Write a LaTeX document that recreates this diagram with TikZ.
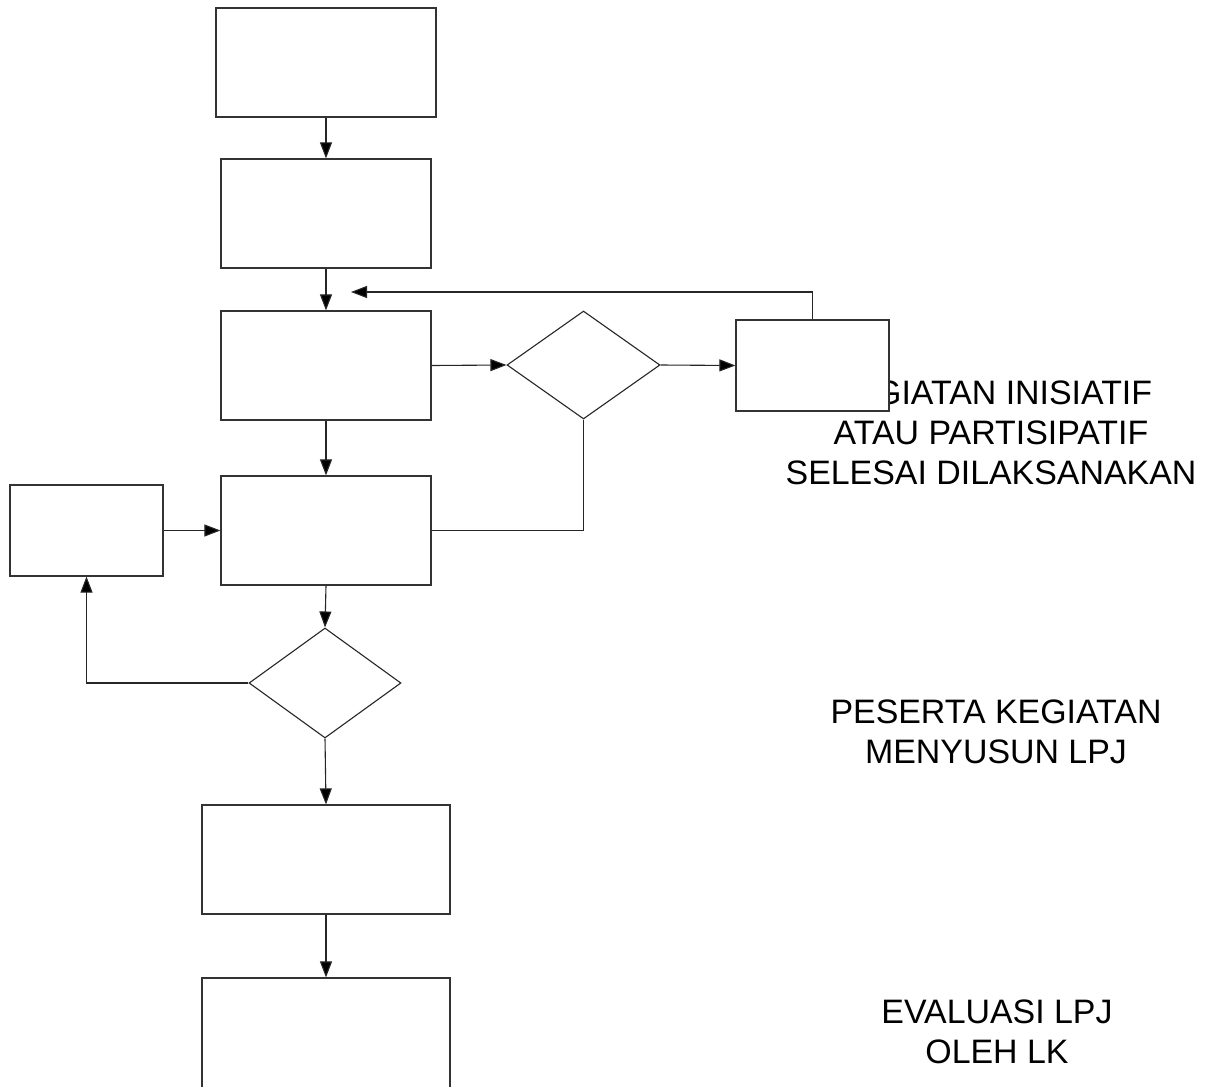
\documentclass[tikz,border=0pt]{standalone}
\usepackage{fontspec}
\setmainfont{Liberation Sans}
\usetikzlibrary{shapes.geometric,arrows.meta}
\begin{document}
\begin{tikzpicture}[x=1pt,y=-1pt,
  boxst/.style={draw=black!80,line width=1.2pt,fill=white,inner sep=0pt},
  decst/.style={draw=black!85,line width=1.1pt,fill=white,diamond,inner sep=0pt},
  conn/.style={draw=black!85,line width=1.1pt},
  arr/.style={conn,-{Triangle[length=16pt,width=12pt,fill=black]}},
  lbl/.style={font=\fontsize{33.9}{40}\selectfont,align=center,inner sep=0pt}]
\useasboundingbox (0,0) rectangle (1222,1086);
\clip (0,0) rectangle (1222,1086);
\fill[white] (0,0) rectangle (1222,1086);
% labels (drawn first so that the boxes cover them)
\node[lbl] (t1) at (991,433) {KEGIATAN INISIATIF\\ATAU PARTISIPATIF\\SELESAI DILAKSANAKAN};
\node[lbl] (t2) at (996,731.5) {PESERTA KEGIATAN\\MENYUSUN LPJ};
\node[lbl] (t3) at (997,1031.5) {EVALUASI LPJ\\OLEH LK};
% boxes
\node[boxst,minimum width=220pt,minimum height=109pt] (b1) at (326,62.5) {};
\node[boxst,minimum width=210pt,minimum height=109pt] (b2) at (326,213.5) {};
\node[boxst,minimum width=210pt,minimum height=109pt] (b3) at (326,365.5) {};
\node[boxst,minimum width=210pt,minimum height=109pt] (b4) at (326,530.5) {};
\node[boxst,minimum width=153pt,minimum height=91pt] (lb) at (86.5,530.5) {};
\node[boxst,minimum width=153pt,minimum height=91pt] (rb) at (812.5,365.5) {};
\node[decst,minimum width=153pt,minimum height=108pt] (d1) at (583.5,365) {};
\node[decst,minimum width=152pt,minimum height=110pt] (d2) at (325,683) {};
\node[boxst,minimum width=248pt,minimum height=109pt] (b5) at (326,859.5) {};
\node[boxst,minimum width=248pt,minimum height=130pt] (b6) at (326,1043) {};
\coordinate (fb) at (351,292);
% connectors
\draw[arr] (b1.south) -- (b2.north);
\draw[arr] (b2.south) -- (b3.north);
\draw[arr] (b3.south) -- (b4.north);
\draw[arr] (b4.south) -- (d2.north);
\draw[arr] (d2.south) -- (b5.north);
\draw[arr] (b5.south) -- (b6.north);
\draw[arr] (b3.east) -- (d1.west);
\draw[arr] (d1.east) -- (rb.west);
\draw[arr] (rb.north) |- (fb);
\draw[conn] (d1.south) |- (b4.east);
\draw[arr] (lb.east) -- (b4.west);
\draw[arr] (d2.west) -| (lb.south);
\end{tikzpicture}
\end{document}
